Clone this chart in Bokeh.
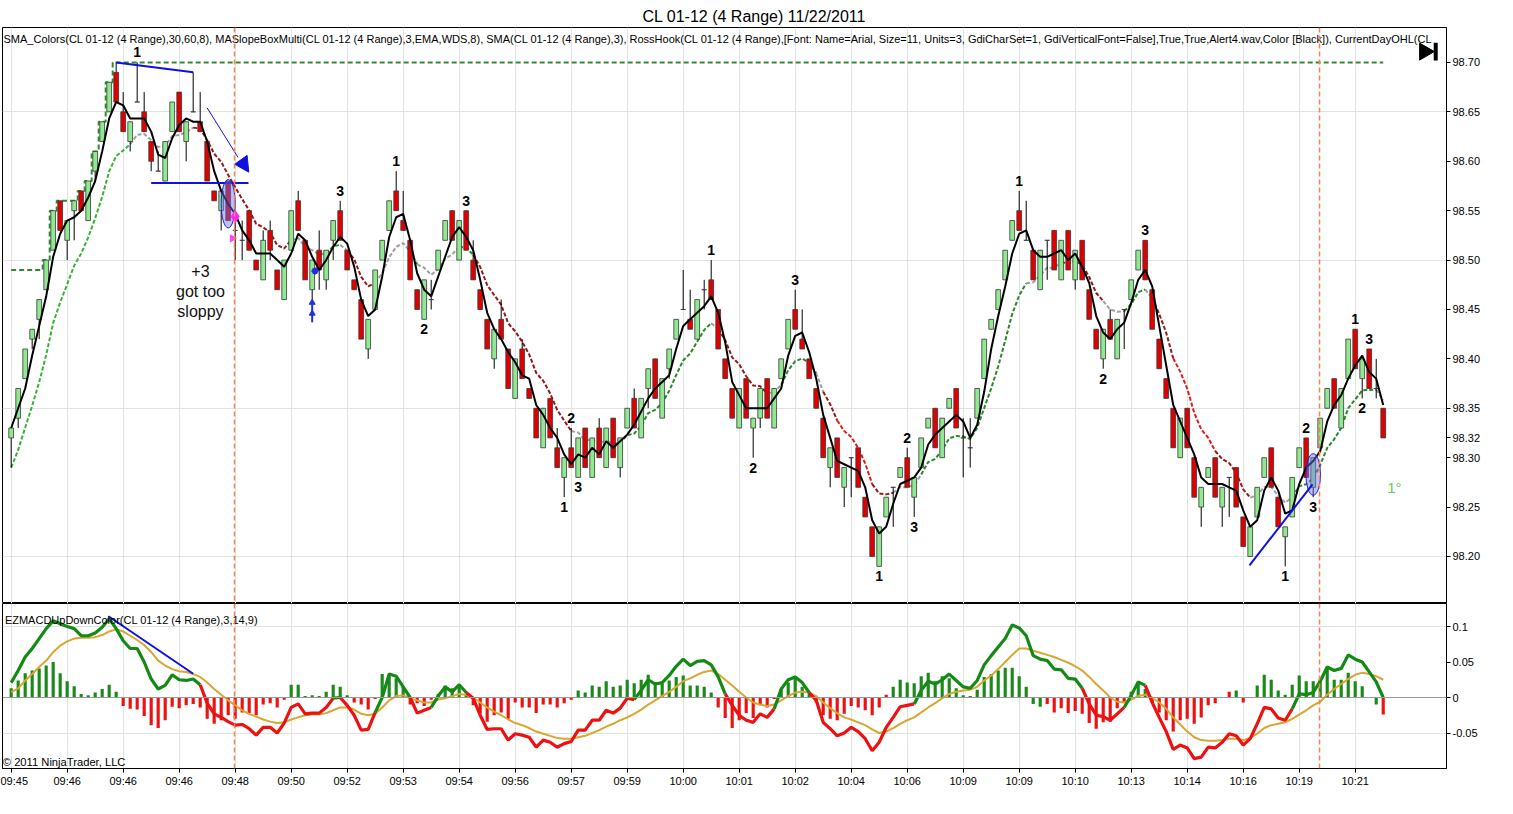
import numpy as np
from bokeh.plotting import figure
from bokeh.layouts import column
from bokeh.models import Range1d, FixedTicker, Span, ColumnDataSource, PrintfTickFormatter
from bokeh.core.properties import value
from bokeh.embed import file_html
from bokeh.resources import INLINE

# ---------------- data (prices in hundredths above 98.00) ----------------
O = [32,34,38,42,44,47,51,56,52,55,57,54,59,62,65,69,65,62,66,65,62,59,58,63,67,62,65,64,62,57,
     55,58,53,52,55,50,48,53,49,46,51,56,52,47,51,48,52,55,51,48,46,41,45,50,53,57,54,52,47,44,
     46,49,52,55,50,55,50,47,44,40,44,41,36,41,37,35,31,36,31,28,31,28,33,28,33,29,34,29,33,36,
     32,37,40,34,39,42,45,44,42,47,48,45,40,37,33,38,33,34,38,33,38,41,45,42,40,37,34,29,32,27,
     30,31,26,23,19,24,27,28,30,26,29,33,35,30,35,37,32,31,34,38,43,45,48,52,55,52,51,47,52,53,
     48,53,48,52,47,43,40,44,40,45,46,49,52,47,42,38,35,30,35,30,25,28,30,25,28,29,24,20,24,28,
     31,26,22,24,29,32,27,31,35,38,33,38,43,38,41,37,35]
H = [33,37,41,43,46,50,55,56,54,56,57,58,61,64,68,70,67,64,70,67,62,61,62,66,67,64,69,67,62,57,
     57,58,54,54,55,50,53,54,49,50,55,57,52,50,53,51,54,56,51,48,46,44,49,52,56,59,57,52,47,48,
     48,51,54,55,54,55,52,47,44,43,46,41,40,42,37,35,35,36,33,30,33,32,33,32,34,33,34,32,35,37,
     36,39,40,38,41,44,49,47,46,48,50,45,40,37,37,38,34,37,38,37,40,44,47,45,40,37,34,31,32,29,
     30,31,26,23,23,26,27,29,31,28,32,34,35,34,36,37,34,34,37,42,44,47,51,54,57,56,51,51,52,53,
     52,53,51,52,47,43,43,45,44,45,48,51,52,47,42,38,35,34,35,30,27,29,30,27,28,29,24,23,27,30,
     31,26,23,28,31,32,30,34,37,38,37,42,43,40,41,40,35]
L = [29,33,38,41,42,47,51,53,50,52,55,54,58,62,65,66,63,61,66,63,59,59,58,63,63,60,65,63,58,56,
     53,54,50,50,51,49,48,50,47,46,51,53,48,46,47,47,50,52,49,47,42,40,45,50,53,55,53,48,45,44,
     45,49,52,52,50,51,48,45,41,39,42,37,36,38,36,32,31,32,29,26,29,28,29,28,30,29,30,28,33,33,
     32,35,36,34,38,42,45,43,42,45,46,41,38,34,33,34,30,33,34,33,38,41,43,41,38,35,30,27,28,25,
     26,27,24,20,19,24,23,28,27,24,29,33,31,30,35,33,28,29,34,38,43,45,48,52,53,52,48,47,48,49,
     48,49,47,48,44,41,39,42,40,41,46,49,48,43,39,36,31,30,31,26,23,28,26,23,24,25,21,20,24,28,
     27,23,19,24,29,28,26,31,35,35,33,38,39,36,37,36,32]
C = [33,37,41,43,46,50,55,53,54,56,55,58,61,64,68,66,63,64,66,63,60,59,62,66,63,64,65,63,58,56,
     57,54,53,52,51,49,52,51,47,50,55,53,48,50,49,51,54,52,49,47,42,44,49,52,56,55,53,48,45,48,
     46,51,54,52,54,51,48,45,41,43,42,37,40,38,36,32,35,32,29,30,29,32,29,32,30,33,30,32,35,33,
     36,39,36,38,41,44,45,43,46,47,46,41,38,34,37,34,34,37,34,37,40,44,43,41,38,35,30,31,28,29,
     30,27,24,20,23,26,27,29,27,28,32,34,31,34,36,33,32,31,37,42,44,47,51,54,53,52,48,51,52,49,
     52,49,51,48,44,41,43,42,44,45,48,51,48,43,39,36,31,34,31,26,27,29,26,27,28,25,21,23,27,30,
     27,23,23,28,31,28,30,34,37,35,37,42,39,40,37,37,32]

MACD = [.021,.038,.057,.069,.083,.097,.108,.104,.100,.097,.087,.087,.091,.099,.111,.097,.080,.069,.069,.050,
        .026,.012,.017,.032,.025,.024,.026,.018,-.008,-.023,-.028,-.034,-.039,-.038,-.044,-.053,-.042,-.042,-.050,-.036,
        -.014,-.009,-.023,-.022,-.022,-.014,-.001,.000,-.011,-.025,-.046,-.045,-.021,.000,.033,.030,.015,.000,-.022,-.018,
        -.014,.002,.015,.008,.018,.007,-.001,-.025,-.045,-.044,-.044,-.060,-.051,-.053,-.056,-.070,-.060,-.063,-.070,-.065,
        -.062,-.046,-.046,-.032,-.032,-.018,-.022,-.015,-.001,-.003,.010,.025,.019,.021,.031,.044,.054,.045,.051,.052,
        .046,.029,.005,-.011,-.025,-.032,-.035,-.023,-.028,-.016,.012,.025,.029,.021,.007,-.004,-.035,-.044,-.054,-.050,
        -.042,-.048,-.058,-.075,-.063,-.042,-.028,-.013,-.011,-.009,.010,.023,.019,.025,.033,.024,.015,.013,.024,.046,
        .059,.071,.083,.102,.098,.087,.059,.054,.052,.040,.039,.027,.026,.013,-.009,-.025,-.027,-.032,-.023,-.014,
        .003,.022,.017,-.007,-.028,-.048,-.073,-.067,-.071,-.086,-.084,-.070,-.071,-.063,-.051,-.054,-.067,-.058,-.037,-.014,
        -.016,-.029,-.032,-.016,.005,.004,.007,.023,.043,.038,.041,.060,.054,.050,.036,.022,.000]
SIGNAL = [.0075,.013,.024,.033,.043,.052,.064,.073,.079,.083,.084,.084,.085,.088,.093,.096,.093,.087,.081,.074,
          .064,.052,.045,.040,.037,.036,.033,.029,.021,.012,.004,-.004,-.011,-.018,-.023,-.027,-.031,-.034,-.036,-.035,
          -.031,-.028,-.025,-.024,-.024,-.022,-.018,-.014,-.014,-.017,-.023,-.025,-.023,-.014,-.004,.002,.003,-.001,-.004,-.007,
          -.007,-.003,-.001,.002,.005,.004,.000,-.007,-.014,-.020,-.025,-.031,-.036,-.039,-.043,-.048,-.051,-.054,-.057,-.058,
          -.058,-.056,-.054,-.050,-.046,-.041,-.037,-.032,-.028,-.023,-.017,-.010,-.004,.002,.008,.015,.023,.027,.032,.036,
          .038,.033,.025,.017,.008,.000,-.007,-.010,-.012,-.010,-.004,.002,.007,.008,.007,.002,-.007,-.015,-.022,-.028,
          -.031,-.035,-.039,-.045,-.050,-.048,-.043,-.037,-.032,-.028,-.021,-.014,-.008,-.001,.005,.008,.010,.011,.015,.024,
          .031,.040,.050,.060,.069,.069,.066,.063,.060,.057,.053,.049,.044,.038,.029,.019,.010,.000,-.006,-.007,
          -.003,.002,.004,.000,-.007,-.016,-.028,-.038,-.048,-.056,-.060,-.061,-.061,-.060,-.058,-.058,-.060,-.057,-.051,-.043,
          -.039,-.037,-.035,-.030,-.024,-.018,-.011,-.006,.004,.012,.019,.026,.032,.035,.033,.030,.025]
HIST = [.013,.024,.034,.038,.041,.045,.050,.034,.023,.016,.005,.003,.007,.012,.018,.008,-.012,-.016,-.017,-.026,
        -.039,-.043,-.032,-.013,-.015,-.011,-.009,-.014,-.030,-.037,-.032,-.025,-.030,-.021,-.022,-.025,-.010,-.008,-.014,-.003,
        .018,.018,.002,.003,.002,.008,.018,.015,.003,-.007,-.010,-.017,-.002,.033,.031,.027,.015,-.010,-.008,-.012,
        -.003,.005,.017,.013,.017,.005,-.011,-.023,-.034,-.025,-.021,-.030,-.007,-.014,-.014,-.022,-.010,-.010,-.014,-.008,
        -.003,.010,.007,.017,.015,.023,.015,.017,.025,.020,.025,.032,.022,.020,.024,.029,.031,.017,.017,.015,
        .007,-.014,-.029,-.043,-.032,-.022,-.029,-.011,-.014,-.002,.012,.021,.027,.015,.007,-.007,-.025,-.030,-.032,-.023,
        -.012,-.014,-.018,-.025,-.014,.004,.015,.025,.021,.020,.030,.035,.023,.030,.027,.013,.003,.002,.011,.029,
        .033,.038,.042,.042,.030,.015,-.009,-.013,-.009,-.021,-.015,-.022,-.019,-.023,-.036,-.044,-.035,-.034,-.015,-.007,
        .008,.019,.012,-.007,-.021,-.032,-.048,-.032,-.030,-.037,-.028,-.011,-.008,.000,.008,.010,-.007,.000,.017,.032,
        .025,.010,.004,.018,.031,.023,.023,.026,.043,.025,.025,.035,.023,.016,.000,-.010,-.024]
HIST_RED_UP = [52, 125, 174]      # bars drawn red although above zero
HIST_GREEN_DOWN = [146, 147, 195]  # bars drawn green although below zero

# colour of the slow moving average, read per stretch of bars:
# G bright green, g green, N neutral grey, D dark red, R bright red
MA_COLOR_RUNS = [(0,17,"G"),(17,26,"N"),(26,40,"D"),(40,45,"N"),(45,47,"g"),(47,48,"N"),(48,52,"D"),
                 (52,57,"N"),(57,58,"g"),(58,64,"N"),(64,66,"g"),(66,80,"D"),(80,86,"N"),(86,100,"g"),
                 (100,101,"N"),(101,108,"D"),(108,110,"N"),(110,115,"g"),(115,116,"N"),(116,118,"D"),
                 (118,123,"R"),(123,126,"D"),(126,130,"N"),(130,145,"g"),(145,150,"N"),(150,156,"D"),
                 (156,159,"N"),(159,162,"g"),(162,163,"N"),(163,166,"D"),(166,172,"R"),(172,177,"D"),
                 (177,183,"N"),(183,195,"g"),(195,197,"N")]

TIME_LABELS = ["09:45","09:46","09:46","09:46","09:48","09:50","09:52","09:53","09:54","09:56","09:57",
               "09:59","10:00","10:01","10:02","10:04","10:06","10:09","10:09","10:10","10:13","10:14",
               "10:16","10:19","10:21"]
PRICE_TICKS = [98.20, 98.25, 98.30, 98.35, 98.40, 98.45, 98.50, 98.55, 98.60, 98.65]
HIGH_MARK = 98.70
LAST_MARK = 98.32
PRIOR_DAY_HIGH = 98.49
MA_START = 98.29
HOOKS = [(18,"1","a"),(47,"3","a"),(55,"1","a"),(59,"2","b"),(65,"3","a"),(79,"1","b"),(80,"2","a"),
         (81,"3","b"),(100,"1","a"),(106,"2","b"),(112,"3","a"),(124,"1","b"),(128,"2","a"),(129,"3","b"),
         (144,"1","a"),(156,"2","b"),(162,"3","a"),(182,"1","b"),(185,"2","a"),(186,"3","b"),(192,"1","a"),
         (193,"2","b"),(194,"3","a")]

# ---------------- derived ----------------
n = len(C)
x = np.arange(n)
o = 98 + np.array(O) / 100.0
h = 98 + np.array(H) / 100.0
l = 98 + np.array(L) / 100.0
c = 98 + np.array(C) / 100.0

FONT = value("Liberation Sans")
GREEN_BODY = "#90E890"
RED_BODY = "#E00000"
MA_PALETTE = {"G": "#36B436", "g": "#2A8A2A", "N": "#A0A0A0", "D": "#961818", "R": "#E21C1C"}

fill = []
for oo, cc in zip(O, C):
    fill.append(GREEN_BODY if cc > oo else (RED_BODY if cc < oo else "black"))
csrc = ColumnDataSource(dict(x=x, h=h, l=l, top=np.maximum(o, c), bottom=np.minimum(o, c), fill=fill))

# SMA(3) of closes
sma3 = np.array([c[max(0, i - 2):i + 1].mean() for i in range(n)])
# slow moving average (EMA 8 of closes)
k = 2.0 / 9.0
ma = np.zeros(n)
prev = MA_START
for i in range(n):
    prev = prev + k * (c[i] - prev) if i > 0 else MA_START
    ma[i] = prev
dayhigh = np.maximum(PRIOR_DAY_HIGH, np.maximum.accumulate(h))

XR = (-1.24, 205.04)
YR1 = (98.1524, 98.7354)
YR2 = (-0.100, 0.1324)
FW = 1444

# ---------------- price panel ----------------
p1 = figure(frame_width=FW, frame_height=576, x_range=Range1d(*XR), y_range=Range1d(*YR1),
            output_backend="svg", toolbar_location=None, x_axis_location=None, y_axis_location="right",
            min_border_left=2, min_border_right=59, min_border_top=27, min_border_bottom=0,
            title="CL 01-12 (4 Range)  11/22/2011")
p1.title.align = "left"
p1.title.offset = 640
p1.title.text_font = "Liberation Sans"
p1.title.text_font_size = "16px"
p1.title.text_font_style = "normal"
p1.title.text_color = "black"
p1.title.standoff = 5
p1.outline_line_color = "black"
p1.background_fill_color = "white"
p1.ygrid.ticker = FixedTicker(ticks=[98.20, 98.35, 98.50, 98.65])
p1.xgrid.ticker = FixedTicker(ticks=list(range(0, n, 8)))
for g in (p1.xgrid, p1.ygrid):
    g.grid_line_color = "#E2E2E2"
    g.grid_line_width = 1
ax = p1.yaxis[0]
ax.ticker = FixedTicker(ticks=PRICE_TICKS + [LAST_MARK, HIGH_MARK])
ax.formatter = PrintfTickFormatter(format="%.2f")
ax.major_label_text_font = "Liberation Sans"
ax.major_label_text_font_size = "11px"
ax.major_label_text_color = "black"
ax.major_label_standoff = 2
ax.major_tick_in = 0
ax.major_tick_out = 4
ax.minor_tick_line_color = None
ax.axis_line_color = "black"

# vertical session markers
for loc in (31.9, 186.9):
    p1.add_layout(Span(location=loc, dimension="height", line_color="#FF7F50", line_dash="5 3", line_width=1.5))

# day high step line
p1.step(x, dayhigh, mode="center", line_color="#2E8B2E", line_width=2, line_dash="5 3")

def color_runs(xs, ys, cols):
    rx, ry, rc = [], [], []
    cx, cy, cc = [xs[0]], [ys[0]], cols[1]
    for i in range(1, len(xs)):
        if cols[i] != cc:
            rx.append(cx); ry.append(cy); rc.append(cc)
            cx, cy, cc = [xs[i - 1]], [ys[i - 1]], cols[i]
        cx.append(xs[i]); cy.append(ys[i])
    rx.append(cx); ry.append(cy); rc.append(cc)
    return rx, ry, rc

mcols = [None] * n
for a0, a1, key in MA_COLOR_RUNS:
    for i in range(a0 + 1, min(a1 + 1, n)):
        mcols[i] = MA_PALETTE[key]
for i in range(1, n):
    if mcols[i] is None:
        mcols[i] = MA_PALETTE["N"]
rx, ry, rc = color_runs(list(x), list(ma), mcols)
p1.multi_line(rx, ry, line_color=rc, line_width=2, line_dash="4 2")

# candles
p1.segment(x0="x", y0="h", x1="x", y1="l", source=csrc, line_color="black", line_width=1)
p1.vbar(x="x", width=0.68, top="top", bottom="bottom", source=csrc, fill_color="fill",
        line_color="#383838", line_width=0.8)

# SMA(3)
p1.line(x, sma3, line_color="black", line_width=2)

# trader's drawings
p1.line([15, 26], [98.70, 98.69], line_color="#1010E0", line_width=2)
p1.line([20, 33.9], [98.578, 98.578], line_color="#1010E0", line_width=2)
p1.line([28, 32.4], [98.654, 98.604], line_color="#1010E0", line_width=1)
p1.patch([31.94, 33.7, 33.94], [98.597, 98.606, 98.589], fill_color="#1010E0", line_color="#1010E0")
p1.ellipse(x=[31, 186], y=[98.557, 98.283], width=[2.0, 2.1], height=[0.049, 0.042],
           fill_color="#7070F0", fill_alpha=0.45, line_color="#2020D0", line_width=1)
p1.line([176.9, 185.9], [98.191, 98.273], line_color="#1010E0", line_width=2)
p1.scatter([32.0], [98.544], marker="diamond", size=12, fill_color="#FF20FF", line_color="#FF20FF")
p1.scatter([31.6], [98.522], marker="triangle", angle=-np.pi / 2, size=7, fill_color="#FF40FF", line_color="#FF40FF")
p1.scatter([43, 43], [98.457, 98.446], marker="triangle", size=6, fill_color="#2030E0", line_color="#2030E0")
p1.segment([43], [98.457], [43], [98.437], line_color="#2030E0", line_width=2)
p1.scatter([43.4], [98.489], marker="asterisk", size=7, line_color="#2030E0", line_width=2)
p1.text([27.04, 27.04, 27.04], [98.4885, 98.4683, 98.448], text=["+3", "got too", "sloppy"],
        text_font=FONT, text_font_size="16px", text_align="center", text_baseline="middle", text_color="#111111")

# hook labels
hx, hy, ht, ho = [], [], [], []
for b, t, side in HOOKS:
    hx.append(b)
    if side == "a":
        hy.append(h[b]); ho.append(-10)
    else:
        hy.append(l[b]); ho.append(10)
    ht.append(t)
hsrc = ColumnDataSource(dict(x=hx, y=hy, t=ht, off=ho))
p1.text(x="x", y="y", text="t", y_offset="off", source=hsrc, text_font=FONT, text_font_size="14px",
        text_font_style="bold", text_align="center", text_baseline="middle", text_color="black")

p1.text([-1.1], [98.7233], text=["SMA_Colors(CL 01-12 (4 Range),30,60,8), MASlopeBoxMulti(CL 01-12 (4 Range),3,EMA,WDS,8), "
                                  "SMA(CL 01-12 (4 Range),3), RossHook(CL 01-12 (4 Range),[Font: Name=Arial, Size=11, Units=3, "
                                  "GdiCharSet=1, GdiVerticalFont=False],True,True,Alert4.wav,Color [Black]), CurrentDayOHL(CL"],
        text_font=FONT, text_font_size="11px", text_align="left", text_baseline="middle", text_color="black")
p1.text([197.6], [98.27], text=["1°"], text_font=FONT, text_font_size="15px", text_align="center",
        text_baseline="middle", text_color="#66CC55")
# end-of-chart icon
p1.scatter([201.9], [98.711], marker="triangle", angle=-np.pi / 2, size=17, fill_color="black", line_color="black")
p1.segment([203.5], [98.702], [203.5], [98.720], line_color="black", line_width=4)

# ---------------- MACD panel ----------------
p2 = figure(frame_width=FW, frame_height=165, x_range=p1.x_range, y_range=Range1d(*YR2),
            output_backend="svg", toolbar_location=None, y_axis_location="right",
            min_border_left=2, min_border_right=59, min_border_top=0, min_border_bottom=32)
p2.outline_line_color = "black"
p2.ygrid.ticker = FixedTicker(ticks=[-0.05, 0.1])
p2.xgrid.ticker = FixedTicker(ticks=list(range(0, n, 8)))
for g in (p2.xgrid, p2.ygrid):
    g.grid_line_color = "#E2E2E2"
    g.grid_line_width = 1
ay = p2.yaxis[0]
ay.ticker = FixedTicker(ticks=[-0.05, 0.0, 0.05, 0.1])
ay.major_label_overrides = {-0.05: "-0.05", 0.0: "0", 0.05: "0.05", 0.1: "0.1"}
ax2 = p2.xaxis[0]
ax2.ticker = FixedTicker(ticks=list(range(0, n, 8)))
ax2.major_label_overrides = {i * 8: t for i, t in enumerate(TIME_LABELS)}
for a in (ay, ax2):
    a.major_label_text_font = "Liberation Sans"
    a.major_label_text_font_size = "11px"
    a.major_label_text_color = "black"
    a.major_label_standoff = 2
    a.major_tick_in = 0
    a.major_tick_out = 4
    a.minor_tick_line_color = None
    a.axis_line_color = "black"

p2.add_layout(Span(location=0, dimension="width", line_color="#9A9A9A", line_width=1))
for loc in (31.9, 186.9):
    p2.add_layout(Span(location=loc, dimension="height", line_color="#FF7F50", line_dash="5 3", line_width=1.5))

hcol = []
for i, v in enumerate(HIST):
    if i in HIST_RED_UP:
        hcol.append("#EE1111")
    elif i in HIST_GREEN_DOWN:
        hcol.append("#1A8A1A")
    else:
        hcol.append("#1A8A1A" if v >= 0 else "#EE1111")
p2.vbar(x=x, top=HIST, bottom=0, width=0.45, fill_color=hcol, line_color=None)

p2.line(x, SIGNAL, line_color="#DAA530", line_width=2)
mc = [None] + ["#138A13" if MACD[i] >= 0 else "#EE1111" for i in range(1, n)]
rx, ry, rc = color_runs(list(x), MACD, mc)
p2.multi_line(rx, ry, line_color=rc, line_width=3.2)
p2.line([13.9, 26.0], [0.1145, 0.0334], line_color="#1010E0", line_width=2)

p2.text([-0.9], [0.1085], text=["EZMACDUpDownColor(CL 01-12 (4 Range),3,14,9)"], text_font=FONT,
        text_font_size="11px", text_align="left", text_baseline="middle", text_color="black")
p2.text([-1.2], [-0.0915], text=["© 2011 NinjaTrader, LLC"], text_font=FONT,
        text_font_size="11.2px", text_align="left", text_baseline="middle", text_color="black")

layout = column(p1, p2, spacing=0)
open("out.html", "w").write(file_html(layout, INLINE))
